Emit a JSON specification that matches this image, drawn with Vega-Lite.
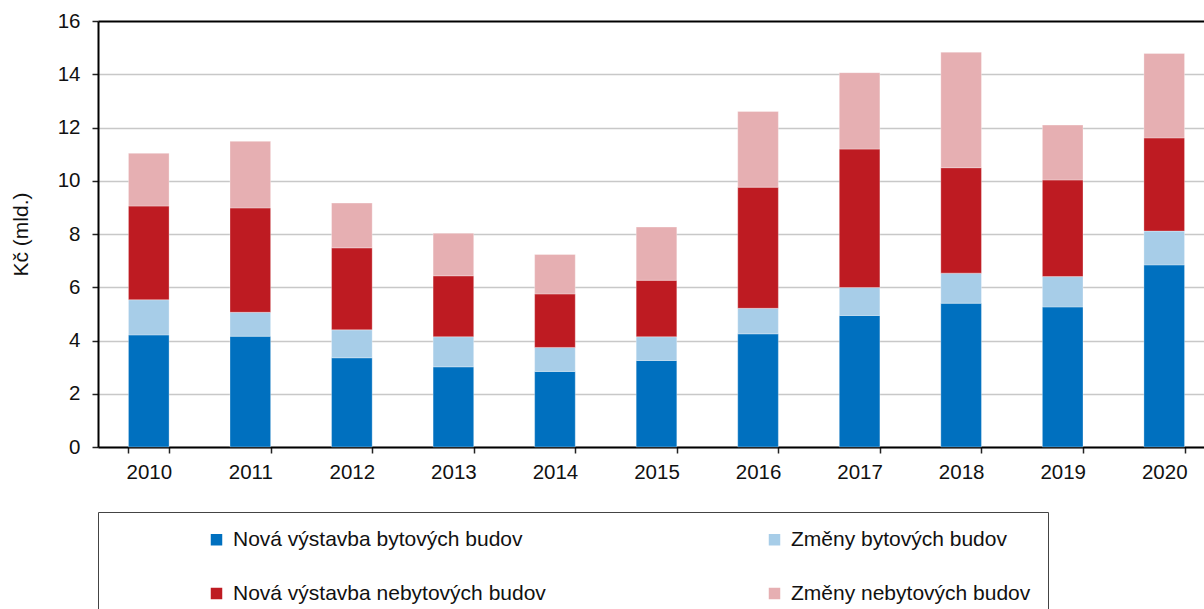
{
  "$schema": "https://vega.github.io/schema/vega-lite/v6.json",
  "width": 1106,
  "height": 426,
  "autosize": "none",
  "padding": {"left": 98, "top": 21, "right": 0, "bottom": 162},
  "background": "white",
  "config": {
    "view": {"stroke": null},
    "font": "Liberation Sans"
  },
  "data": {
    "values": [
      {"rok": "2010", "kategorie": "Nová výstavba bytových budov", "poradi": 1, "hodnota": 4.21},
      {"rok": "2010", "kategorie": "Změny bytových budov", "poradi": 2, "hodnota": 1.32},
      {"rok": "2010", "kategorie": "Nová výstavba nebytových budov", "poradi": 3, "hodnota": 3.52},
      {"rok": "2010", "kategorie": "Změny nebytových budov", "poradi": 4, "hodnota": 1.98},
      {"rok": "2011", "kategorie": "Nová výstavba bytových budov", "poradi": 1, "hodnota": 4.16},
      {"rok": "2011", "kategorie": "Změny bytových budov", "poradi": 2, "hodnota": 0.90},
      {"rok": "2011", "kategorie": "Nová výstavba nebytových budov", "poradi": 3, "hodnota": 3.92},
      {"rok": "2011", "kategorie": "Změny nebytových budov", "poradi": 4, "hodnota": 2.50},
      {"rok": "2012", "kategorie": "Nová výstavba bytových budov", "poradi": 1, "hodnota": 3.35},
      {"rok": "2012", "kategorie": "Změny bytových budov", "poradi": 2, "hodnota": 1.05},
      {"rok": "2012", "kategorie": "Nová výstavba nebytových budov", "poradi": 3, "hodnota": 3.08},
      {"rok": "2012", "kategorie": "Změny nebytových budov", "poradi": 4, "hodnota": 1.68},
      {"rok": "2013", "kategorie": "Nová výstavba bytových budov", "poradi": 1, "hodnota": 3.01},
      {"rok": "2013", "kategorie": "Změny bytových budov", "poradi": 2, "hodnota": 1.13},
      {"rok": "2013", "kategorie": "Nová výstavba nebytových budov", "poradi": 3, "hodnota": 2.29},
      {"rok": "2013", "kategorie": "Změny nebytových budov", "poradi": 4, "hodnota": 1.60},
      {"rok": "2014", "kategorie": "Nová výstavba bytových budov", "poradi": 1, "hodnota": 2.84},
      {"rok": "2014", "kategorie": "Změny bytových budov", "poradi": 2, "hodnota": 0.90},
      {"rok": "2014", "kategorie": "Nová výstavba nebytových budov", "poradi": 3, "hodnota": 2.01},
      {"rok": "2014", "kategorie": "Změny nebytových budov", "poradi": 4, "hodnota": 1.48},
      {"rok": "2015", "kategorie": "Nová výstavba bytových budov", "poradi": 1, "hodnota": 3.25},
      {"rok": "2015", "kategorie": "Změny bytových budov", "poradi": 2, "hodnota": 0.89},
      {"rok": "2015", "kategorie": "Nová výstavba nebytových budov", "poradi": 3, "hodnota": 2.12},
      {"rok": "2015", "kategorie": "Změny nebytových budov", "poradi": 4, "hodnota": 2.00},
      {"rok": "2016", "kategorie": "Nová výstavba bytových budov", "poradi": 1, "hodnota": 4.25},
      {"rok": "2016", "kategorie": "Změny bytových budov", "poradi": 2, "hodnota": 0.96},
      {"rok": "2016", "kategorie": "Nová výstavba nebytových budov", "poradi": 3, "hodnota": 4.55},
      {"rok": "2016", "kategorie": "Změny nebytových budov", "poradi": 4, "hodnota": 2.84},
      {"rok": "2017", "kategorie": "Nová výstavba bytových budov", "poradi": 1, "hodnota": 4.94},
      {"rok": "2017", "kategorie": "Změny bytových budov", "poradi": 2, "hodnota": 1.05},
      {"rok": "2017", "kategorie": "Nová výstavba nebytových budov", "poradi": 3, "hodnota": 5.20},
      {"rok": "2017", "kategorie": "Změny nebytových budov", "poradi": 4, "hodnota": 2.87},
      {"rok": "2018", "kategorie": "Nová výstavba bytových budov", "poradi": 1, "hodnota": 5.40},
      {"rok": "2018", "kategorie": "Změny bytových budov", "poradi": 2, "hodnota": 1.13},
      {"rok": "2018", "kategorie": "Nová výstavba nebytových budov", "poradi": 3, "hodnota": 3.96},
      {"rok": "2018", "kategorie": "Změny nebytových budov", "poradi": 4, "hodnota": 4.34},
      {"rok": "2019", "kategorie": "Nová výstavba bytových budov", "poradi": 1, "hodnota": 5.26},
      {"rok": "2019", "kategorie": "Změny bytových budov", "poradi": 2, "hodnota": 1.14},
      {"rok": "2019", "kategorie": "Nová výstavba nebytových budov", "poradi": 3, "hodnota": 3.63},
      {"rok": "2019", "kategorie": "Změny nebytových budov", "poradi": 4, "hodnota": 2.06},
      {"rok": "2020", "kategorie": "Nová výstavba bytových budov", "poradi": 1, "hodnota": 6.84},
      {"rok": "2020", "kategorie": "Změny bytových budov", "poradi": 2, "hodnota": 1.27},
      {"rok": "2020", "kategorie": "Nová výstavba nebytových budov", "poradi": 3, "hodnota": 3.50},
      {"rok": "2020", "kategorie": "Změny nebytových budov", "poradi": 4, "hodnota": 3.17}
    ]
  },
  "mark": {"type": "bar", "stroke": "white", "strokeWidth": 0.6, "strokeOpacity": 0.5},
  "encoding": {
    "x": {
      "field": "rok",
      "type": "ordinal",
      "scale": {"range": [0, 1117], "paddingInner": 0.6, "paddingOuter": 0.3},
      "axis": {
        "title": null,
        "labelAngle": 0,
        "labelFontSize": 20.5,
        "labelColor": "#111111",
        "labelPadding": 9,
        "domainColor": "black",
        "domainWidth": 2,
        "tickColor": "#222222",
        "tickWidth": 1.5,
        "tickSize": 6,
        "tickBand": "extent",
        "grid": false
      }
    },
    "y": {
      "field": "hodnota",
      "type": "quantitative",
      "stack": "zero",
      "scale": {"domain": [0, 16], "nice": false},
      "axis": {
        "title": "Kč (mld.)",
        "titleFontSize": 21,
        "titleFontWeight": "normal",
        "titleColor": "#111111",
        "titlePadding": 26,
        "values": [0, 2, 4, 6, 8, 10, 12, 14, 16],
        "labelFontSize": 20.5,
        "labelColor": "#111111",
        "labelPadding": 12,
        "domainColor": "black",
        "domainWidth": 2,
        "tickColor": "#222222",
        "tickWidth": 1.5,
        "tickSize": 6,
        "grid": true,
        "gridColor": {"condition": {"test": "datum.value === 16", "value": "black"}, "value": "#c8c8c8"},
        "gridWidth": {"condition": {"test": "datum.value === 16", "value": 2}, "value": 1.5}
      }
    },
    "color": {
      "field": "kategorie",
      "type": "nominal",
      "scale": {
        "domain": ["Nová výstavba bytových budov", "Změny bytových budov", "Nová výstavba nebytových budov", "Změny nebytových budov"],
        "range": ["#0070bf", "#a7cde8", "#be1b22", "#e6afb2"]
      },
      "legend": {
        "title": null,
        "orient": "none",
        "legendX": 0,
        "legendY": 491,
        "columns": 2,
        "gridAlign": "all",
        "direction": "horizontal",
        "symbolType": "square",
        "symbolSize": 132,
        "symbolStrokeWidth": 0,
        "symbolOffset": 91,
        "labelFontSize": 21,
        "labelColor": "#111111",
        "labelLimit": 800,
        "labelOffset": 6,
        "columnPadding": 127,
        "rowPadding": 32,
        "padding": 17,
        "strokeColor": "#444444",
        "fillColor": "white"
      }
    },
    "order": {"field": "poradi", "type": "quantitative"}
  }
}
